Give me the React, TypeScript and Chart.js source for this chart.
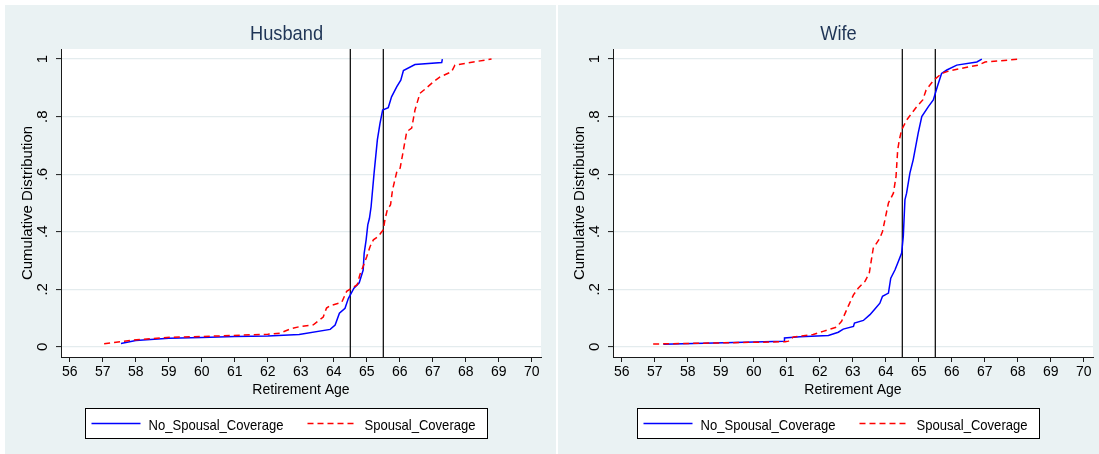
import React, { useEffect, useRef } from 'react';
import { Chart, registerables } from 'chart.js';

Chart.register(...registerables);

// ---------- data ----------
const xTicks = [56, 57, 58, 59, 60, 61, 62, 63, 64, 65, 66, 67, 68, 69, 70];
const yTicks = [0, 0.2, 0.4, 0.6, 0.8, 1];
const yTickLabels = ['0', '.2', '.4', '.6', '.8', '1'];
const refLines = [64.5, 65.5];
const seriesNames = ['No_Spousal_Coverage', 'Spousal_Coverage'];
const panelTitles = ['Husband', 'Wife'];
const xTitle = 'Retirement Age';
const yTitle = 'Cumulative Distribution';

const husbandNoAge = [57.55, 58.0, 59.0, 60.0, 61.0, 62.0, 62.95, 63.89, 64.04, 64.17, 64.34, 64.44, 64.61, 64.77, 64.89, 64.92, 64.98, 65.03, 65.08, 65.13, 65.22, 65.32, 65.4, 65.48, 65.65, 65.75, 65.91, 66.03, 66.11, 66.46, 67.27, 67.29];
const husbandNoCdf = [0.012, 0.022, 0.03, 0.033, 0.036, 0.038, 0.043, 0.061, 0.076, 0.117, 0.134, 0.168, 0.204, 0.223, 0.267, 0.325, 0.372, 0.424, 0.447, 0.487, 0.603, 0.719, 0.777, 0.823, 0.831, 0.869, 0.904, 0.927, 0.96, 0.981, 0.988, 1.0];

const husbandSpAge = [57.04, 58.02, 58.94, 60.0, 60.95, 62.0, 62.37, 62.67, 62.98, 63.38, 63.68, 63.78, 63.88, 64.24, 64.39, 64.54, 64.71, 64.79, 64.89, 65.0, 65.1, 65.2, 65.35, 65.5, 65.55, 65.62, 65.72, 65.78, 65.91, 66.01, 66.11, 66.21, 66.36, 66.46, 66.61, 66.76, 67.02, 67.22, 67.57, 67.67, 68.23, 68.78];
const husbandSpCdf = [0.011, 0.025, 0.033, 0.036, 0.04, 0.044, 0.048, 0.062, 0.071, 0.077, 0.104, 0.135, 0.143, 0.155, 0.193, 0.204, 0.216, 0.251, 0.28, 0.314, 0.349, 0.372, 0.384, 0.407, 0.442, 0.476, 0.494, 0.546, 0.609, 0.621, 0.684, 0.748, 0.76, 0.823, 0.881, 0.895, 0.921, 0.938, 0.956, 0.979, 0.99, 1.0];

const wifeNoAge = [57.26, 60.92, 60.93, 61.4, 62.26, 62.56, 62.71, 63.02, 63.05, 63.32, 63.52, 63.67, 63.82, 63.9, 64.08, 64.15, 64.28, 64.38, 64.48, 64.53, 64.58, 64.63, 64.73, 64.83, 64.98, 65.09, 65.29, 65.44, 65.56, 65.69, 65.85, 66.15, 66.76, 66.91];
const wifeNoCdf = [0.009, 0.02, 0.031, 0.035, 0.04, 0.051, 0.062, 0.071, 0.083, 0.092, 0.112, 0.132, 0.152, 0.176, 0.187, 0.239, 0.268, 0.297, 0.326, 0.384, 0.511, 0.534, 0.604, 0.65, 0.742, 0.8, 0.835, 0.858, 0.904, 0.95, 0.962, 0.979, 0.99, 1.0];

const wifeSpAge = [56.95, 60.95, 61.05, 61.2, 61.8, 62.1, 62.51, 62.66, 62.86, 63.02, 63.17, 63.37, 63.5, 63.62, 63.82, 63.9, 64.08, 64.23, 64.31, 64.36, 64.41, 64.48, 64.63, 64.94, 65.12, 65.22, 65.44, 65.69, 65.95, 66.8, 67.01, 68.07];
const wifeSpCdf = [0.01, 0.018, 0.02, 0.035, 0.043, 0.054, 0.069, 0.089, 0.141, 0.181, 0.205, 0.228, 0.257, 0.343, 0.378, 0.401, 0.5, 0.534, 0.592, 0.684, 0.719, 0.754, 0.788, 0.835, 0.858, 0.892, 0.925, 0.95, 0.96, 0.979, 0.99, 1.0];

// ---------- styles ----------
const xMin = 55.733;
const xMax = 70.279;
const yMin = -0.035;
const yMax = 1.035;
const PANEL_BG = '#eaf2f3';
const GRID = '#e4ecee';
const AXIS = '#1a1a1a';
const TITLE_COLOR = '#1f3556';
const SANS = '"Liberation Sans", Arial, sans-serif';
const SQUEEZE = 0.87;
const CANVAS_H = 449;
const PLOT_W = 480;

function squeezedText(ctx: CanvasRenderingContext2D, text: string, x: number, y: number) {
  ctx.save();
  ctx.translate(x, y);
  ctx.scale(SQUEEZE, 1);
  ctx.fillText(text, 0, 0);
  ctx.restore();
}

const decorPlugin = {
  id: 'panelDecor',
  beforeDraw(chart: any) {
    const { ctx, chartArea: a } = chart;
    ctx.save();
    ctx.fillStyle = '#ffffff';
    ctx.fillRect(a.left, a.top, a.right - a.left, a.bottom - a.top);
    ctx.restore();
  },
  afterDraw(chart: any, _args: any, opts: any) {
    const { ctx, chartArea: a } = chart;
    const cx = a.left + 225.5;
    ctx.save();
    // panel title
    ctx.fillStyle = TITLE_COLOR;
    ctx.font = `21px ${SANS}`;
    ctx.textAlign = 'center';
    ctx.textBaseline = 'alphabetic';
    squeezedText(ctx, opts.title, cx, 35);

    // legend box
    const bx = Math.round(a.left + 24) + 0.5;
    const by = Math.round(a.bottom + 51) + 0.5;
    const bw = 402;
    const bh = 30;
    ctx.fillStyle = '#ffffff';
    ctx.fillRect(bx, by, bw, bh);
    ctx.strokeStyle = '#000000';
    ctx.lineWidth = 1;
    ctx.strokeRect(bx, by, bw, bh);

    const ds = chart.data.datasets;
    const items = [
      { ds: ds[0], x: bx + 6 },
      { ds: ds[1], x: bx + 222 },
    ];
    const ly = by + 15;
    items.forEach(({ ds: d, x }) => {
      ctx.beginPath();
      ctx.setLineDash(d.borderDash || []);
      ctx.strokeStyle = d.borderColor;
      ctx.lineWidth = d.borderWidth;
      ctx.moveTo(x, ly);
      ctx.lineTo(x + 49, ly);
      ctx.stroke();
      ctx.setLineDash([]);
      ctx.fillStyle = '#000000';
      ctx.font = `15px ${SANS}`;
      ctx.textAlign = 'left';
      ctx.textBaseline = 'alphabetic';
      squeezedText(ctx, d.label, x + 57, by + 21);
    });
    ctx.restore();
  },
};

type PanelProps = {
  title: string;
  noAge: number[];
  noCdf: number[];
  spAge: number[];
  spCdf: number[];
  left: number;
  width: number;
  yAxisWidth: number;
};

function Panel({ title, noAge, noCdf, spAge, spCdf, left, width, yAxisWidth }: PanelProps) {
  const ref = useRef<HTMLCanvasElement>(null);
  useEffect(() => {
    const canvas = ref.current;
    if (!canvas) return;
    const pts = (xs: number[], ys: number[]) => xs.map((x, i) => ({ x, y: ys[i] }));
    const datasets: any[] = [
      {
        label: seriesNames[0],
        data: pts(noAge, noCdf),
        borderColor: '#0000ff',
        borderWidth: 1.5,
        borderDash: [],
        showLine: true,
        pointRadius: 0,
        tension: 0,
        order: 2,
      },
      {
        label: seriesNames[1],
        data: pts(spAge, spCdf),
        borderColor: '#ff0000',
        borderWidth: 1.5,
        borderDash: [6, 4],
        showLine: true,
        pointRadius: 0,
        tension: 0,
        order: 1,
      },
      ...refLines.map((v) => ({
        label: 'ref',
        data: [
          { x: v, y: yMin - 0.1 },
          { x: v, y: yMax + 0.1 },
        ],
        borderColor: '#000000',
        borderWidth: 1.2,
        showLine: true,
        pointRadius: 0,
        order: 3,
      })),
    ];
    const padRight = width - yAxisWidth - PLOT_W;
    const chart = new Chart(canvas, {
      type: 'scatter',
      data: { datasets },
      options: {
        responsive: false,
        animation: false,
        devicePixelRatio: 1,
        layout: { padding: { top: 44, left: 0, right: padRight, bottom: CANVAS_H - 352 - 42 } },
        plugins: {
          legend: { display: false },
          tooltip: { enabled: false },
          title: { display: false },
          panelDecor: { title },
        } as any,
        scales: {
          x: {
            type: 'linear',
            min: xMin,
            max: xMax,
            afterBuildTicks: (s: any) => {
              s.ticks = xTicks.map((v) => ({ value: v }));
            },
            afterFit: (s: any) => {
              s.height = 42;
            },
            ticks: {
              padding: 1.5,
              color: '#000000',
              autoSkip: false,
              maxRotation: 0,
              minRotation: 0,
              font: { family: SANS, size: 14 },
              callback: (_v: any, i: number) => String(xTicks[i]),
            },
            grid: { drawOnChartArea: false, drawTicks: true, tickLength: 5, tickColor: AXIS, tickWidth: 1 },
            border: { display: true, color: AXIS, width: 1 },
            title: {
              display: true,
              text: xTitle,
              color: '#000000',
              font: { family: SANS, size: 14 },
              padding: { top: 0, bottom: 0 },
            },
          },
          y: {
            type: 'linear',
            min: yMin,
            max: yMax,
            afterBuildTicks: (s: any) => {
              s.ticks = yTicks.map((v) => ({ value: v }));
            },
            afterFit: (s: any) => {
              s.width = yAxisWidth;
            },
            ticks: {
              minRotation: 90,
              maxRotation: 90,
              crossAlign: 'center',
              padding: 7.25,
              color: '#000000',
              font: { family: SANS, size: 15 },
              callback: (_v: any, i: number) => yTickLabels[i],
            },
            grid: { color: GRID, lineWidth: 1.2, drawTicks: true, tickLength: 5, tickColor: AXIS, tickWidth: 1 },
            border: { display: true, color: AXIS, width: 1 },
            title: {
              display: true,
              text: yTitle,
              color: '#000000',
              font: { family: SANS, size: 15 },
              padding: { top: yAxisWidth - 42, bottom: 0 },
            },
          },
        },
      } as any,
      plugins: [decorPlugin],
    });
    return () => chart.destroy();
  }, []);
  return (
    <canvas
      ref={ref}
      width={width}
      height={CANVAS_H}
      style={{ position: 'absolute', left, top: 5, width, height: CANVAS_H, background: PANEL_BG, display: 'block' }}
    />
  );
}

export default function App() {
  return (
    <div
      style={{
        position: 'fixed',
        left: 0,
        top: 0,
        width: 1099,
        height: 454,
        background: '#ffffff',
        overflow: 'hidden',
      }}
    >
      <Panel title={panelTitles[0]} noAge={husbandNoAge} noCdf={husbandNoCdf} spAge={husbandSpAge} spCdf={husbandSpCdf} left={5} width={551} yAxisWidth={56} />
      <Panel title={panelTitles[1]} noAge={wifeNoAge} noCdf={wifeNoCdf} spAge={wifeSpAge} spCdf={wifeSpCdf} left={558} width={541} yAxisWidth={55} />
    </div>
  );
}
